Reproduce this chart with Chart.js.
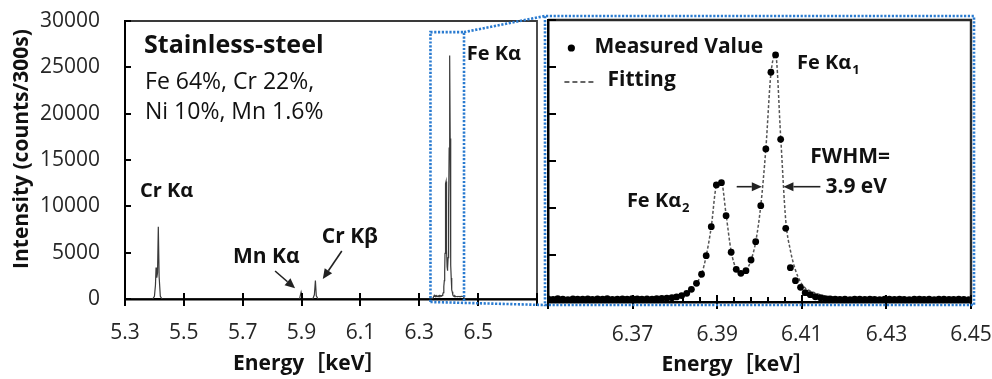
<!DOCTYPE html>
<html><head><meta charset="utf-8">
<script src="https://cdn.jsdelivr.net/npm/chart.js@4/dist/chart.umd.min.js"></script>
<style>
html,body{margin:0;padding:0;background:#fff;}
#wrap{position:relative;width:992px;height:379px;overflow:hidden;background:#fff;}
#c1{position:absolute;left:0;top:0;}
#c2{position:absolute;left:540px;top:0;}
#ov{position:absolute;left:0;top:0;pointer-events:none;}
</style></head><body>
<div id="wrap">
<canvas id="c1" width="548" height="379"></canvas>
<canvas id="c2" width="452" height="379"></canvas>
<canvas id="ov" width="992" height="379"></canvas>
</div>
<script>
// ---------------- DATA ----------------
const leftXTickLabels = ['5.3','5.5','5.7','5.9','6.1','6.3','6.5',''];
const rightXTickLabels = ['','6.37','6.39','6.41','6.43','6.45'];
const yTickLabels = ['0','5000','10000','15000','20000','25000','30000'];

// Fe K-alpha region: measured points and fitted curve (keV, counts/300s)
const feEnergy = [
6.3500,6.3512,6.3523,6.3535,6.3547,6.3559,6.3570,6.3582,6.3594,6.3605,
6.3617,6.3629,6.3640,6.3652,6.3664,6.3676,6.3687,6.3699,6.3711,6.3722,
6.3734,6.3746,6.3757,6.3769,6.3781,6.3793,6.3804,6.3816,6.3828,6.3839,
6.3851,6.3863,6.3874,6.3886,6.3898,6.3910,6.3921,6.3933,6.3945,6.3956,
6.3968,6.3980,6.3991,6.4003,6.4015,6.4027,6.4038,6.4050,6.4062,6.4073,
6.4085,6.4097,6.4108,6.4120,6.4132,6.4144,6.4155,6.4167,6.4179,6.4190,
6.4202,6.4214,6.4225,6.4237,6.4249,6.4261,6.4272,6.4284,6.4296,6.4307,
6.4319,6.4331,6.4342,6.4354,6.4366,6.4378,6.4389,6.4401,6.4413,6.4424,
6.4436,6.4448,6.4459,6.4471,6.4483,6.4495];
const feMeasured = [
330,280,350,300,260,340,310,290,330,270,
320,300,350,280,310,340,290,360,320,300,
340,310,360,370,400,460,540,680,
925,1350,1990,2950,4930,8010,12450,12690,9180,5290,
3480,3050,3330,4470,6420,10250,16280,24440,26280,17310,
7840,3650,2270,1560,990,780,560,460,350,
320,300,280,310,260,290,300,270,310,280,250,300,290,270,310,280,260,300,290,270,300,260,290,310,280,270,300,280,260];
const feFitting = [
280,280,280,280,280,280,280,280,280,280,280,280,280,280,280,280,
290,300,310,320,340,360,390,430,480,550,650,780,
980,1380,2000,2950,4900,8000,12300,12700,9300,5400,
3500,3050,3350,4450,6400,10250,16300,24300,26300,17600,
8700,5500,3400,2130,1490,1170,960,760,640,540,480,430,390,370,350,340,
330,325,320,315,310,305,300,300,300,295,295,290,290,290,285,285,285,280,280,280,280,280];

// other peaks of the wide spectrum
const crKaEnergy = [5.394,5.400,5.4035,5.4055,5.408,5.4105,5.4132,5.416,5.420,5.426];
const crKaCounts = [0,300,1500,3400,2300,2800,7800,2400,300,0];
const mnKaEnergy = [5.893,5.8985,5.904];
const mnKaCounts = [0,750,0];
const crKbEnergy = [5.938,5.9435,5.947,5.950,5.956];
const crKbCounts = [0,450,2000,350,0];
const baseEnergy = [5.30,6.345,6.455,6.70];
const baseCounts = [0,0,0,0];

// ---------------- BUILD ----------------
const spectrum = [];
function addPts(E,C){E.forEach((e,i)=>spectrum.push({x:e,y:C[i]}));}
addPts(baseEnergy,baseCounts);
addPts(crKaEnergy,crKaCounts);
addPts(mnKaEnergy,mnKaCounts);
addPts(crKbEnergy,crKbCounts);
addPts(feEnergy,feMeasured);
spectrum.sort((a,b)=>a.x-b.x);
const measuredPts = feEnergy.map((e,i)=>({x:e,y:feMeasured[i]}));
const fittingPts = feEnergy.map((e,i)=>({x:e,y:feFitting[i]}));

Chart.defaults.font.family = '"Open Sans", "Noto Sans CJK JP", sans-serif';
Chart.defaults.color = '#262626';
const FB = (s)=>'bold '+s+'px "Open Sans", "Noto Sans CJK JP", sans-serif';
const FR = (s)=>s+'px "Open Sans", "Noto Sans CJK JP", sans-serif';

// annotations (placed in data coordinates)
const decor = {
  c1: {
    frameColor:'#3a3a3a', frameWidth:1.8, yIn:6, xUp:6, xDown:7, minor:[],
    notes:[
      {text:'Stainless-steel', x:5.3646, y:26549, font:FB(25)},
      {text:'Fe 64%, Cr 22%,', x:5.368, y:22663, font:FR(23)},
      {text:'Ni 10%, Mn 1.6%', x:5.368, y:19426, font:FR(23)},
      {text:'Cr Kα', x:5.351, y:11008, font:FB(20)},
      {text:'Mn Kα', x:5.6672, y:3885, font:FB(21)},
      {text:'Cr Kβ', x:5.9687, y:6011, font:FB(21)},
      {text:'Fe Kα', x:6.4616, y:25793, font:FB(20)}
    ],
    arrows:[
      {x1:5.8099,y1:3022,x2:5.8779,y2:1155},
      {x1:6.0367,y1:5180,x2:5.9721,y2:2158}
    ]
  },
  c2: {
    frameColor:'#2a2a2a', frameWidth:2.4, yIn:8, xUp:7, xDown:7,
    minor:[6.382,6.386,6.394,6.398,6.402,6.406],
    notes:[
      {text:'Measured Value', x:6.36098, y:26489, font:FB(21)},
      {text:'Fitting', x:6.36407, y:22979, font:FB(21)},
      {text:'Fe Kα', sub:'1', x:6.40887, y:24787, font:FB(20)},
      {text:'FWHM=', x:6.41202, y:14755, font:FB(21)},
      {text:'3.9 eV', x:6.41558, y:11564, font:FB(21)},
      {text:'Fe Kα', sub:'2', x:6.36865, y:10138, font:FB(20)}
    ],
    arrows:[
      {x1:6.41439,y1:12266,x2:6.40566,y2:12266},
      {x1:6.39461,y1:12266,x2:6.40055,y2:12266}
    ],
    legendDot:{x:6.35552,y:27021},
    legendDash:{x1:6.35388,x2:6.36098,y:23404}
  }
};

function arrow(ctx,x1,y1,x2,y2){
  const ang=Math.atan2(y2-y1,x2-x1), L=10, W=4.5;
  const bx=x2-L*Math.cos(ang), by=y2-L*Math.sin(ang);
  ctx.beginPath();ctx.moveTo(x1,y1);ctx.lineTo(bx,by);ctx.stroke();
  ctx.beginPath();ctx.moveTo(x2,y2);
  ctx.lineTo(bx+W*Math.sin(ang),by-W*Math.cos(ang));
  ctx.lineTo(bx-W*Math.sin(ang),by+W*Math.cos(ang));
  ctx.closePath();ctx.fill();
}

const decorPlugin = {
  id:'decor',
  afterDraw(chart){
    const o = decor[chart.canvas.id];
    const ctx=chart.ctx, a=chart.chartArea, xs=chart.scales.x, ys=chart.scales.y;
    const X=v=>xs.getPixelForValue(v), Y=v=>ys.getPixelForValue(v);
    ctx.save();
    // top / right frame
    ctx.strokeStyle=o.frameColor; ctx.lineWidth=o.frameWidth;
    ctx.beginPath();ctx.moveTo(a.left,a.top);ctx.lineTo(a.right,a.top);ctx.lineTo(a.right,a.bottom);ctx.stroke();
    // tick marks from the scales
    ctx.fillStyle='#000';
    xs.ticks.forEach((t,i)=>{const p=Math.round(xs.getPixelForTick(i));ctx.fillRect(p-1,a.bottom-o.xUp,2,o.xUp+o.xDown);});
    ys.ticks.forEach((t,i)=>{const p=Math.round(ys.getPixelForTick(i));ctx.fillRect(a.left,p-1,o.yIn,2);});
    o.minor.forEach(v=>{const p=Math.round(X(v));ctx.fillRect(p-1,a.bottom-5,2,5);});
    // notes
    ctx.fillStyle='#111'; ctx.textAlign='left'; ctx.textBaseline='alphabetic';
    o.notes.forEach(n=>{
      ctx.font=n.font; const x=X(n.x), y=Y(n.y);
      ctx.fillText(n.text,x,y);
      if(n.sub){const w=ctx.measureText(n.text).width; ctx.font=FB(13); ctx.fillText(n.sub,x+w+1,y+5);}
    });
    // arrows
    ctx.strokeStyle='#222'; ctx.fillStyle='#222'; ctx.lineWidth=1.6;
    o.arrows.forEach(r=>arrow(ctx,X(r.x1),Y(r.y1),X(r.x2),Y(r.y2)));
    // legend symbols
    if(o.legendDot){
      ctx.fillStyle='#000'; ctx.beginPath(); ctx.arc(X(o.legendDot.x),Y(o.legendDot.y),3.6,0,Math.PI*2); ctx.fill();
      ctx.strokeStyle='#333'; ctx.lineWidth=1.6; ctx.setLineDash([5,3]);
      ctx.beginPath(); ctx.moveTo(X(o.legendDash.x1),Y(o.legendDash.y)); ctx.lineTo(X(o.legendDash.x2),Y(o.legendDash.y)); ctx.stroke();
      ctx.setLineDash([]);
    }
    ctx.restore();
  }
};

const common = {responsive:false, animation:false, devicePixelRatio:1,
  plugins:{legend:{display:false}, tooltip:{enabled:false}}};

const chart1 = new Chart(document.getElementById('c1'), {
  type:'line',
  data:{datasets:[{data:spectrum, borderColor:'#3a3a3a', borderWidth:1.2, pointRadius:0, tension:0}]},
  options:Object.assign({}, common, {
    layout:{padding:{left:0,right:11,top:21,bottom:0}},
    scales:{
      x:{type:'linear', min:5.3, max:6.7, z:1,
        grid:{display:false},
        border:{display:true,color:'#000',width:2.5},
        ticks:{stepSize:0.2, autoSkip:false, maxRotation:0, padding:13, font:{size:21}, color:'#262626',
          callback:(v,i)=>leftXTickLabels[i]},
        title:{display:true, text:'Energy［keV］        ', font:{size:21,weight:'bold'}, color:'#111', padding:{top:0,bottom:2}},
        afterFit:s=>{s.height=80; s.paddingLeft=0; s.paddingRight=0;}},
      y:{type:'linear', min:0, max:30000,
        grid:{display:false},
        border:{display:true,color:'#000',width:2},
        ticks:{stepSize:5000, padding:17, font:{size:21}, color:'#262626', callback:(v,i)=>yTickLabels[i]},
        title:{display:true, text:'    Intensity (counts/300s)', font:{size:21,weight:'bold'}, color:'#111', padding:{top:9,bottom:0}},
        afterFit:s=>{s.width=125; s.paddingTop=0; s.paddingBottom=0;}}
    }
  }),
  plugins:[decorPlugin]
});

const chart2 = new Chart(document.getElementById('c2'), {
  type:'line',
  data:{datasets:[
    {type:'scatter', label:'Measured Value', data:measuredPts, showLine:false, pointRadius:3.4, pointBackgroundColor:'#000', pointBorderWidth:0, borderColor:'#000'},
    {type:'line', label:'Fitting', data:fittingPts, borderColor:'#555', borderDash:[3,2], borderWidth:1.5, pointRadius:0, cubicInterpolationMode:'monotone'}
  ]},
  options:Object.assign({}, common, {
    layout:{padding:{left:8,right:21,top:20,bottom:0}},
    scales:{
      x:{type:'linear', min:6.35, max:6.45, z:1,
        grid:{display:false},
        border:{display:true,color:'#000',width:2.5},
        ticks:{stepSize:0.02, autoSkip:false, maxRotation:0, padding:12, font:{size:21}, color:'#262626',
          callback:(v,i)=>rightXTickLabels[i]},
        title:{display:true, text:'Energy［keV］        ', font:{size:21,weight:'bold'}, color:'#111', padding:{top:0,bottom:1}},
        afterFit:s=>{s.height=77; s.paddingLeft=0; s.paddingRight=0;}},
      y:{type:'linear', min:0, max:30000,
        grid:{display:false},
        border:{display:true,color:'#000',width:2.5},
        ticks:{stepSize:5000, display:false},
        afterFit:s=>{s.width=0; s.paddingTop=0; s.paddingBottom=0;}}
    }
  }),
  plugins:[decorPlugin]
});

// blue dotted zoom connector, positioned from both charts' scales
const zoomBox = {lo:6.338, hi:6.452, top:28800};
(function(){
  const ctx=document.getElementById('ov').getContext('2d');
  const xs=chart1.scales.x, ys=chart1.scales.y, a1=chart1.chartArea, a2=chart2.chartArea;
  const off=540;
  const sx1=xs.getPixelForValue(zoomBox.lo), sx2=xs.getPixelForValue(zoomBox.hi);
  const sy1=ys.getPixelForValue(zoomBox.top), sy2=a1.bottom+3;
  const bx1=off+a2.left-3, bx2=off+a2.right+3, by1=a2.top-4, by2=a2.bottom+3;
  ctx.strokeStyle='#2a7bd0'; ctx.lineWidth=2.6; ctx.setLineDash([2.2,1.6]);
  ctx.beginPath();
  ctx.moveTo(sx1,sy2); ctx.lineTo(sx1,sy1); ctx.lineTo(sx2,sy1); ctx.lineTo(sx2,sy2);
  ctx.moveTo(sx2,sy1); ctx.lineTo(bx1,by1); ctx.lineTo(bx2,by1); ctx.lineTo(bx2,by2); ctx.lineTo(bx1,by2); ctx.lineTo(bx1,by1);
  ctx.moveTo(sx1,sy2); ctx.lineTo(bx1,by2);
  ctx.stroke();
})();
</script>
</body></html>
